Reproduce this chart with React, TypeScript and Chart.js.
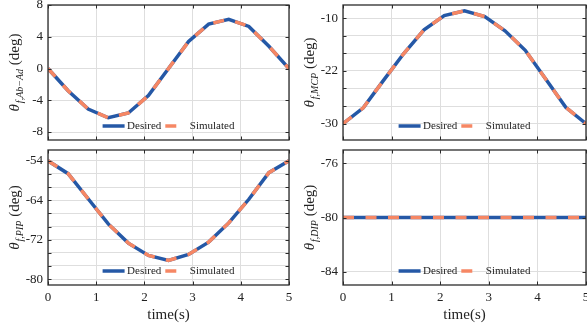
import React, { useEffect, useRef } from 'react';
import { Chart, registerables } from 'chart.js';

Chart.register(...registerables);

// ---------- data ----------
const time = [0, 0.417, 0.833, 1.25, 1.667, 2.083, 2.5, 2.917, 3.333, 3.75, 4.167, 4.583, 5];

const abAdDesired = [0, -2.8, -5.1, -6.2, -5.6, -3.4, 0, 3.4, 5.6, 6.2, 5.3, 2.8, 0];
const abAdSimulated = [0, -2.8, -5.1, -6.2, -5.6, -3.4, 0, 3.4, 5.6, 6.2, 5.3, 2.8, 0];

const mcpDesired = [-30, -27.0, -21.8, -16.7, -12.2, -9.5, -8.6, -9.7, -12.4, -16.1, -21.5, -26.9, -30];
const mcpSimulated = [-30, -27.0, -21.8, -16.7, -12.2, -9.5, -8.6, -9.7, -12.4, -16.1, -21.5, -26.9, -30];

const pipDesired = [-56, -58.6, -63.7, -68.8, -72.7, -75.2, -76.2, -75.0, -72.5, -68.6, -63.8, -58.4, -56];
const pipSimulated = [-56, -58.6, -63.7, -68.8, -72.7, -75.2, -76.2, -75.0, -72.5, -68.6, -63.8, -58.4, -56];

const dipDesired = [-80, -80, -80, -80, -80, -80, -80, -80, -80, -80, -80, -80, -80];
const dipSimulated = [-80, -80, -80, -80, -80, -80, -80, -80, -80, -80, -80, -80, -80];

// y gridlines and their labels
const abAdGrid = [-8, -4, 0, 4, 8];
const abAdLabels = ['-8', '-4', '0', '4', '8'];
const mcpGrid = [-30, -26.667, -23.333, -20, -16.667, -13.333, -10];
const mcpLabels = ['-30', '', '', '-22', '', '', '-10'];
const pipGrid = [-80, -77.333, -74.667, -72, -69.333, -66.667, -64, -61.333, -58.667, -56];
const pipLabels = ['-80', '', '', '-72', '', '', '-64', '', '', '-54'];
const dipGrid = [-84, -80, -76];
const dipLabels = ['-84', '-80', '-76'];

const xTicks = [0, 1, 2, 3, 4, 5];
const xLabels = ['0', '1', '2', '3', '4', '5'];
const xTitle = 'time(s)';
const legendLabels = ['Desired', 'Simulated'];

const BLUE = '#2558a6';
const ORANGE = '#f68764';
const SERIF = "'Liberation Serif', 'DejaVu Serif', serif";

type PanelProps = {
  left: number; top: number; width: number; height: number;
  desired: number[]; simulated: number[];
  grid: number[]; labels: string[];
  yMin: number; yMax: number;
  sub: string; showX: boolean; padRight: number; padBottom: number;
};

function makePlugins(sub: string) {
  const frame = {
    id: 'frameTicks',
    afterDatasetsDraw(chart: any) {
      const { ctx, chartArea: a, scales } = chart;
      ctx.save();
      ctx.strokeStyle = '#2b2b2b';
      ctx.lineWidth = 1;
      const tl = 3.5;
      scales.x.ticks.forEach((t: any) => {
        const x = Math.round(scales.x.getPixelForValue(t.value)) + 0.5;
        ctx.beginPath();
        ctx.moveTo(x, a.bottom); ctx.lineTo(x, a.bottom - tl);
        ctx.moveTo(x, a.top); ctx.lineTo(x, a.top + tl);
        ctx.stroke();
      });
      scales.y.ticks.forEach((t: any) => {
        const y = Math.round(scales.y.getPixelForValue(t.value)) + 0.5;
        ctx.beginPath();
        ctx.moveTo(a.left, y); ctx.lineTo(a.left + tl, y);
        ctx.moveTo(a.right, y); ctx.lineTo(a.right - tl, y);
        ctx.stroke();
      });
      ctx.lineWidth = 1.3;
      ctx.strokeRect(a.left, a.top, a.right - a.left, a.bottom - a.top);
      ctx.restore();
    },
  };
  const legendAndTitle = {
    id: 'legendAndTitle',
    afterDraw(chart: any) {
      const { ctx, chartArea: a } = chart;
      ctx.save();
      // legend
      ctx.font = `11px ${SERIF}`;
      const w1 = ctx.measureText(legendLabels[0]).width;
      const w2 = ctx.measureText(legendLabels[1]).width;
      const L = 22, g1 = 2.5, g2 = 4;
      const total = L + g1 + w1 + g2 + L + g1 + w2;
      let x = (a.left + a.right) / 2 - total / 2;
      const y = a.bottom - 14;
      ctx.lineWidth = 3.5;
      ctx.lineCap = 'butt';
      ctx.strokeStyle = BLUE;
      ctx.setLineDash([]);
      ctx.beginPath(); ctx.moveTo(x, y); ctx.lineTo(x + L, y); ctx.stroke();
      x += L + g1;
      ctx.fillStyle = '#222';
      ctx.textBaseline = 'middle';
      ctx.textAlign = 'left';
      ctx.fillText(legendLabels[0], x, y + 0.5);
      x += w1 + g2;
      ctx.strokeStyle = ORANGE;
      ctx.setLineDash([11, 11.5]);
      ctx.beginPath(); ctx.moveTo(x, y); ctx.lineTo(x + L, y); ctx.stroke();
      ctx.setLineDash([]);
      x += L + g1;
      ctx.fillText(legendLabels[1], x, y + 0.5);

      // y title
      const xc = a.left - 33;
      const yc = (a.top + a.bottom) / 2;
      ctx.translate(xc + 4, yc);
      ctx.rotate(-Math.PI / 2);
      ctx.textBaseline = 'alphabetic';
      const fTheta = `italic 15px ${SERIF}`;
      const fSub = `italic 10px ${SERIF}`;
      const fMain = `15px ${SERIF}`;
      ctx.font = fTheta; const wt = ctx.measureText('θ').width;
      ctx.font = fSub; const ws = ctx.measureText(sub).width;
      ctx.font = fMain; const wd = ctx.measureText(' (deg)').width;
      let tx = -(wt + 1 + ws + wd) / 2;
      ctx.font = fTheta; ctx.fillText('θ', tx, 0); tx += wt + 1;
      ctx.font = fSub; ctx.fillText(sub, tx, 3.5); tx += ws;
      ctx.font = fMain; ctx.fillText(' (deg)', tx, 0);
      ctx.restore();
    },
  };
  return [frame, legendAndTitle];
}

function Panel(p: PanelProps) {
  const ref = useRef<HTMLCanvasElement | null>(null);
  useEffect(() => {
    if (!ref.current) return;
    const chart = new Chart(ref.current, {
      type: 'line',
      data: {
        datasets: [
          {
            label: legendLabels[1],
            data: time.map((t, i) => ({ x: t, y: p.simulated[i] })),
            borderColor: ORANGE,
            borderWidth: 3.5,
            borderDash: [11, 11.5],
            pointRadius: 0,
            tension: 0,
            order: 0,
          },
          {
            label: legendLabels[0],
            data: time.map((t, i) => ({ x: t, y: p.desired[i] })),
            borderColor: BLUE,
            borderWidth: 3.5,
            pointRadius: 0,
            tension: 0,
            order: 1,
          },
        ],
      },
      options: {
        animation: false,
        responsive: false,
        maintainAspectRatio: false,
        layout: { padding: { top: 5, right: p.padRight, bottom: p.padBottom, left: 0 } },
        plugins: { legend: { display: false }, tooltip: { enabled: false } },
        scales: {
          x: {
            type: 'linear',
            min: 0,
            max: 5,
            afterBuildTicks: (s: any) => { s.ticks = xTicks.map((v) => ({ value: v })); },
            afterFit: (s: any) => {
              s.height = p.showX ? 43 : 0;
              s.paddingLeft = 0; s.paddingRight = 0;
            },
            grid: { color: '#dedede', lineWidth: 1, drawTicks: false },
            border: { display: false },
            ticks: {
              display: p.showX,
              autoSkip: false,
              maxRotation: 0,
              padding: 5,
              color: '#222',
              font: { family: SERIF, size: 13 },
              callback: (_v: any, i: number) => xLabels[i],
            },
            title: {
              display: p.showX,
              text: xTitle,
              color: '#222',
              font: { family: SERIF, size: 15 },
              padding: { top: 2, bottom: 4 },
            },
          },
          y: {
            type: 'linear',
            min: p.yMin,
            max: p.yMax,
            afterBuildTicks: (s: any) => { s.ticks = p.grid.map((v) => ({ value: v })); },
            afterFit: (s: any) => {
              s.width = 48;
              s.paddingTop = 0; s.paddingBottom = 0;
            },
            grid: { color: '#dedede', lineWidth: 1, drawTicks: false },
            border: { display: false },
            ticks: {
              autoSkip: false,
              padding: 5,
              color: '#222',
              font: { family: SERIF, size: 13 },
              callback: (_v: any, i: number) => p.labels[i],
            },
          },
        },
      } as any,
      plugins: makePlugins(p.sub) as any,
    });
    return () => chart.destroy();
  }, []);
  return (
    <div style={{ position: 'absolute', left: p.left, top: p.top, width: p.width, height: p.height }}>
      <canvas ref={ref} width={p.width} height={p.height} style={{ width: p.width, height: p.height, display: 'block' }} />
    </div>
  );
}

export default function App() {
  return (
    <div style={{ position: 'fixed', left: 0, top: 0, width: 587, height: 328, background: '#fff', overflow: 'hidden' }}>
      <Panel left={0} top={0} width={295} height={145} desired={abAdDesired} simulated={abAdSimulated}
        grid={abAdGrid} labels={abAdLabels} yMin={-9} yMax={8} sub="f,Ab−Ad" showX={false} padRight={6} padBottom={5} />
      <Panel left={295} top={0} width={292} height={145} desired={mcpDesired} simulated={mcpSimulated}
        grid={mcpGrid} labels={mcpLabels} yMin={-33.1} yMax={-7.5} sub="f,MCP" showX={false} padRight={1} padBottom={5} />
      <Panel left={0} top={145} width={295} height={183} desired={pipDesired} simulated={pipSimulated}
        grid={pipGrid} labels={pipLabels} yMin={-81.2} yMax={-53.8} sub="f,PIP" showX={true} padRight={6} padBottom={0} />
      <Panel left={295} top={145} width={292} height={183} desired={dipDesired} simulated={dipSimulated}
        grid={dipGrid} labels={dipLabels} yMin={-85} yMax={-75} sub="f,DIP" showX={true} padRight={1} padBottom={0} />
    </div>
  );
}
